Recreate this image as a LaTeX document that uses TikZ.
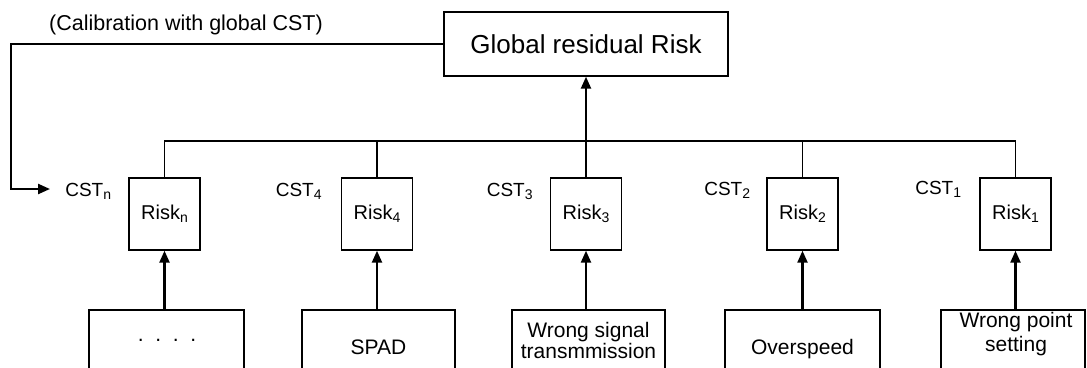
\documentclass[tikz,border=0pt]{standalone}
\usepackage{fontspec}
\setmainfont{Liberation Sans}
\usetikzlibrary{arrows.meta,calc}
\newcommand\sbs[1]{\raisebox{-3pt}{\fontsize{14}{14}\selectfont #1}}
\begin{document}
\begin{tikzpicture}[x=1pt,y=-1pt,
  thinln/.style={line width=1.4pt},
  thickln/.style={line width=2.3pt},
  arr/.style={thickln,-{Triangle[length=12pt,width=10pt]}},
  riskbox/.style={draw,thinln,minimum width=71pt,minimum height=72pt,inner sep=0pt,font=\fontsize{20}{20}\selectfont},
  srcbox/.style={draw,thinln,minimum height=80pt,inner sep=0pt},
  srctxt/.style={inner sep=0pt,align=center,font=\fontsize{21}{21}\selectfont},
  cstlbl/.style={inner sep=0pt,anchor=base east,font=\fontsize{19}{19}\selectfont},
]
\useasboundingbox (0,0) rectangle (1087,367);
\fill[white] (0,0) rectangle (1087,367);
\clip (0,0) rectangle (1087,367);

% global box and calibration label
\node[draw,thinln,minimum width=284pt,minimum height=64pt,inner sep=0pt,font=\fontsize{26}{26}\selectfont] (glob) at (586,44) {Global residual Risk};
\node[inner sep=0pt,font=\fontsize{21.5}{21.5}\selectfont] (cal) at (186,25) {(Calibration with global CST)};

% risk boxes
\node[riskbox] (rn) at (164.5,214) {Risk\sbs{n}};
\node[riskbox] (r4) at (377,214) {Risk\sbs{4}};
\node[riskbox] (r3) at (586,214) {Risk\sbs{3}};
\node[riskbox] (r2) at (802.5,214) {Risk\sbs{2}};
\node[riskbox] (r1) at (1015.5,214) {Risk\sbs{1}};

% CST labels
\node[cstlbl] (cn) at ($(rn.north west)+(-17,19)$) {CST\sbs{n}};
\node[cstlbl] (c4) at ($(r4.north west)+(-19,19)$) {CST\sbs{4}};
\node[cstlbl] (c3) at ($(r3.north west)+(-17,19)$) {CST\sbs{3}};
\node[cstlbl] (c2) at ($(r2.north west)+(-16,18)$) {CST\sbs{2}};
\node[cstlbl] (c1) at ($(r1.north west)+(-18,17)$) {CST\sbs{1}};

% source boxes (cut by the lower edge)
\node[srcbox,minimum width=155pt] (sn) at (166.5,350) {};
\node[srcbox,minimum width=153pt] (s4) at (378.5,350) {};
\node[srcbox,minimum width=153pt] (s3) at (588.5,350) {};
\node[srcbox,minimum width=155pt] (s2) at (802.5,350) {};
\node[srcbox,minimum width=144pt] (s1) at (1013,350) {};

\node[srctxt,anchor=base] (tn) at (167,341) {.\ \ .\ \ .\ \ .};
\node[srctxt,anchor=base] (t4) at (378.5,354) {SPAD};
\node[srctxt] (t3) at (588.5,340) {Wrong signal\\transmmission};
\node[srctxt,anchor=base] (t2) at (802.5,354) {Overspeed};
\node[srctxt,font=\fontsize{21}{23.5}\selectfont] (t1) at (1016,334) {Wrong point\\setting};

% arrows from sources to risks
\draw[arr] (rn.south |- sn.north) -- (rn.south);
\draw[arr] (r4.south |- s4.north) -- (r4.south);
\draw[arr] (r3.south |- s3.north) -- (r3.south);
\draw[arr] (r2.south |- s2.north) -- (r2.south);
\draw[arr] (r1.south |- s1.north) -- (r1.south);

% bus
\coordinate (busy) at (0,141);
\draw[thinln] (rn.north) -- (rn.north |- busy) -- (r1.north |- busy) -- (r1.north);
\draw[thinln] (r4.north) -- (r4.north |- busy);
\draw[thinln] (r2.north) -- (r2.north |- busy);
\draw[arr] (r3.north) -- (glob.south);

% feedback
\coordinate (fbc) at (11,189);
\coordinate (fbe) at (50,189);
\draw[arr] (glob.west) -- (glob.west -| fbc) -- (fbc) -- (fbe);
\end{tikzpicture}
\end{document}
